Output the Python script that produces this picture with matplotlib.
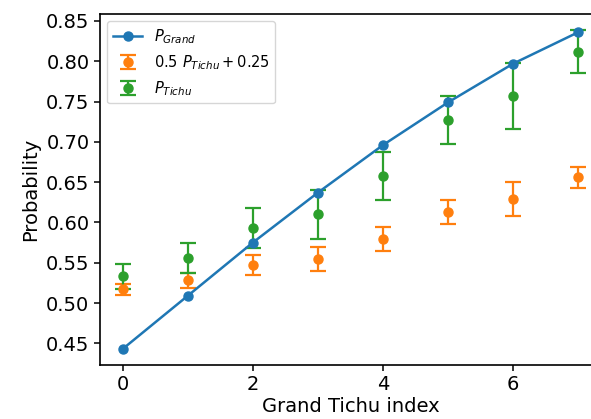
import matplotlib
matplotlib.use("Agg")
import matplotlib.pyplot as plt
import numpy as np

idx = [0, 1, 2, 3, 4, 5, 6, 7]
p_grand = [0.443, 0.509, 0.575, 0.637, 0.696, 0.749, 0.797, 0.836]
p_tichu = [0.533, 0.556, 0.593, 0.610, 0.658, 0.727, 0.757, 0.812]
p_tichu_err = [0.015, 0.019, 0.025, 0.030, 0.030, 0.030, 0.041, 0.027]
p_scaled = [0.517, 0.528, 0.547, 0.555, 0.579, 0.613, 0.629, 0.656]
p_scaled_err = [0.007, 0.009, 0.012, 0.015, 0.015, 0.015, 0.021, 0.013]

fig = plt.figure(figsize=(5.91, 4.19), dpi=100)
ax = fig.add_axes([0.169, 0.129, 0.848, 0.838])

ax.plot(idx, p_grand, marker='o', color='#1f77b4', label=r'$P_{Grand}$',
        linewidth=1.8, markersize=6.5, zorder=3)
ax.errorbar(idx, p_scaled, yerr=p_scaled_err, fmt='o', color='#ff7f0e', capsize=5.5,
            elinewidth=1.6, capthick=1.6, markersize=6.5, label=r'$0.5\ P_{Tichu} + 0.25$')
ax.errorbar(idx, p_tichu, yerr=p_tichu_err, fmt='o', color='#2ca02c', capsize=5.5,
            elinewidth=1.6, capthick=1.6, markersize=6.5, label=r'$P_{Tichu}$')

ax.set_yticks([0.45, 0.50, 0.55, 0.60, 0.65, 0.70, 0.75, 0.80, 0.85])
ax.set_xticks([0, 2, 4, 6])
ax.tick_params(labelsize=14, width=1.1, length=4)
for s in ax.spines.values():
    s.set_linewidth(1.2)
ax.set_xlabel('Grand Tichu index', fontsize=14, labelpad=2)
ax.set_ylabel('Probability', fontsize=14, labelpad=4)
ax.legend(loc='upper left', fontsize=10.5)

fig.savefig('out.png', dpi=100)
